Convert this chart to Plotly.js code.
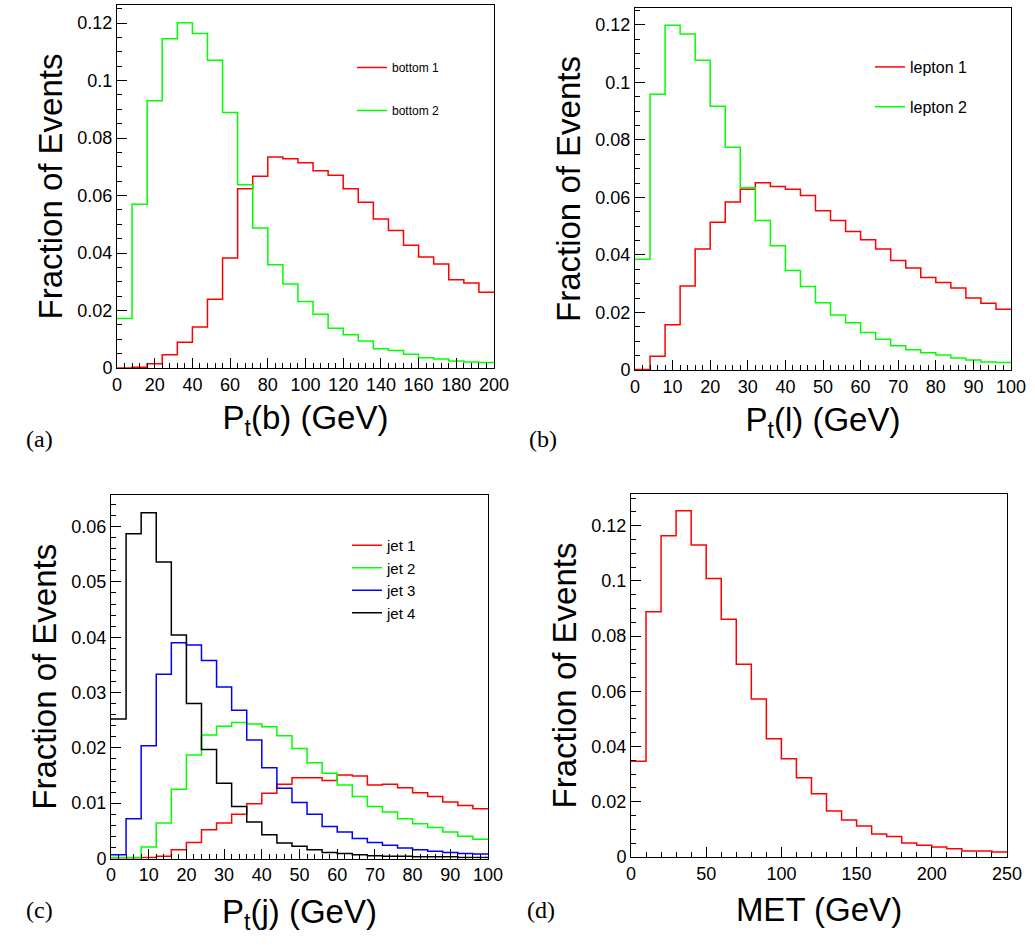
<!DOCTYPE html>
<html>
<head>
<meta charset="utf-8">
<script src="https://cdn.plot.ly/plotly-3.0.1.min.js"></script>
<style>html,body{margin:0;padding:0;background:#fff;}#chart{width:1035px;height:945px;}</style>
</head>
<body>
<div id="chart"></div>
<script>
// ---- Bin edges ----
const edgesB = [0,8,16,24,32,40,48,56,64,72,80,88,96,104,112,120,128,136,144,152,160,168,176,184,192,200];
const edgesL = [0,4,8,12,16,20,24,28,32,36,40,44,48,52,56,60,64,68,72,76,80,84,88,92,96,100];
const edgesJ = [0,4,8,12,16,20,24,28,32,36,40,44,48,52,56,60,64,68,72,76,80,84,88,92,96,100];
const edgesM = [0,10,20,30,40,50,60,70,80,90,100,110,120,130,140,150,160,170,180,190,200,210,220,230,240,250];

// ---- (a) bottom quarks ----
const bottom1 = [0.0000,0.0003,0.0015,0.0046,0.0090,0.0143,0.0239,0.0383,0.0624,0.0667,0.0734,0.0728,0.0714,0.0686,0.0671,0.0624,0.0577,0.0518,0.0478,0.0427,0.0386,0.0362,0.0307,0.0296,0.0264];
const bottom2 = [0.0172,0.0570,0.0930,0.1146,0.1201,0.1164,0.1071,0.0889,0.0638,0.0487,0.0359,0.0292,0.0231,0.0187,0.0138,0.0116,0.0094,0.0067,0.0061,0.0048,0.0036,0.0031,0.0024,0.0021,0.0019];

// ---- (b) leptons ----
const lepton1 = [0.0002,0.0048,0.0157,0.0292,0.0421,0.0514,0.0584,0.0629,0.0651,0.0638,0.0629,0.0607,0.0554,0.0520,0.0482,0.0453,0.0421,0.0381,0.0355,0.0322,0.0304,0.0285,0.0250,0.0232,0.0211];
const lepton2 = [0.0385,0.0959,0.1199,0.1169,0.1077,0.0917,0.0775,0.0634,0.0520,0.0432,0.0346,0.0290,0.0234,0.0191,0.0164,0.0130,0.0107,0.0084,0.0070,0.0060,0.0052,0.0042,0.0035,0.0028,0.0026];

// ---- (c) jets ----
const jet1 = [0.0001,0.0001,0.0002,0.0004,0.0016,0.0029,0.0052,0.0064,0.0080,0.0099,0.0118,0.0134,0.0146,0.0146,0.0141,0.0151,0.0149,0.0133,0.0134,0.0128,0.0119,0.0112,0.0102,0.0096,0.0090];
const jet2 = [0.0002,0.0002,0.0021,0.0064,0.0125,0.0187,0.0223,0.0239,0.0246,0.0243,0.0238,0.0222,0.0199,0.0173,0.0154,0.0133,0.0112,0.0094,0.0084,0.0072,0.0063,0.0056,0.0048,0.0040,0.0035];
const jet3 = [0.0007,0.0072,0.0204,0.0333,0.0390,0.0386,0.0358,0.0310,0.0268,0.0214,0.0164,0.0127,0.0101,0.0080,0.0058,0.0048,0.0036,0.0029,0.0024,0.0019,0.0016,0.0013,0.0011,0.0009,0.0008];
const jet4 = [0.0252,0.0587,0.0625,0.0536,0.0404,0.0280,0.0197,0.0136,0.0094,0.0066,0.0043,0.0028,0.0022,0.0016,0.0011,0.0009,0.0007,0.0005,0.0004,0.0004,0.0003,0.0003,0.0003,0.0002,0.0002];

// ---- (d) MET ----
const met = [0.0347,0.0888,0.1164,0.1254,0.1130,0.1009,0.0861,0.0698,0.0572,0.0428,0.0356,0.0287,0.0229,0.0167,0.0134,0.0112,0.0083,0.0074,0.0051,0.0043,0.0036,0.0030,0.0022,0.0022,0.0018];

const names = {b1:'bottom 1', b2:'bottom 2', l1:'lepton 1', l2:'lepton 2', j1:'jet 1', j2:'jet 2', j3:'jet 3', j4:'jet 4', met:'MET'};
const RED='#ff0000', GREEN='#00ff00', BLUE='#0000ff', BLACK='#000000';

function stepTrace(edges, vals, name, color, xa, ya, legend, showlegend) {
  return {
    type:'scatter', mode:'lines', name:name,
    x: edges, y: vals.concat([vals[vals.length-1]]),
    line:{shape:'hv', color:color, width:1.5},
    xaxis:xa, yaxis:ya, legend:legend, legendgroup:name,
    showlegend: showlegend, hoverinfo:'x+y+name'
  };
}

const data = [
  stepTrace(edgesB, bottom1, names.b1, RED, 'x', 'y', 'legend', true),
  stepTrace(edgesB, bottom2, names.b2, GREEN, 'x', 'y', 'legend', true),
  stepTrace(edgesL, lepton1, names.l1, RED, 'x2', 'y2', 'legend2', true),
  stepTrace(edgesL, lepton2, names.l2, GREEN, 'x2', 'y2', 'legend2', true),
  stepTrace(edgesJ, jet1, names.j1, RED, 'x3', 'y3', 'legend3', true),
  stepTrace(edgesJ, jet2, names.j2, GREEN, 'x3', 'y3', 'legend3', true),
  stepTrace(edgesJ, jet3, names.j3, BLUE, 'x3', 'y3', 'legend3', true),
  stepTrace(edgesJ, jet4, names.j4, BLACK, 'x3', 'y3', 'legend3', true),
  stepTrace(edgesM, met, names.met, RED, 'x4', 'y4', 'legend', false)
];

const FONT = 'Liberation Sans, Arial, Helvetica, sans-serif';
const tickFont = {family:FONT, size:18, color:'#000'};
const titleFont = {family:FONT, size:33, color:'#000'};

function xAxis(domain, range, dtick, minorDtick, title, anchor, standoff) {
  return {
    domain:domain, range:range, anchor:anchor, dtick:dtick, tick0:0,
    ticks:'inside', ticklen:10, tickwidth:1, tickcolor:'#000',
    minor:{dtick:minorDtick, tick0:0, ticks:'inside', ticklen:5, tickwidth:1, tickcolor:'#000', showgrid:false},
    showline:true, linecolor:'#000', linewidth:1, mirror:true,
    showgrid:false, zeroline:false, tickfont:tickFont,
    title:{text:title, font:titleFont, standoff:standoff}, fixedrange:true
  };
}
function yAxis(domain, range, dtick, minorDtick, anchor) {
  return {
    domain:domain, range:range, anchor:anchor, dtick:dtick, tick0:0,
    ticks:'inside', ticklen:10, tickwidth:1, tickcolor:'#000',
    minor:{dtick:minorDtick, tick0:0, ticks:'inside', ticklen:5, tickwidth:1, tickcolor:'#000', showgrid:false},
    showline:true, linecolor:'#000', linewidth:1, mirror:true,
    showgrid:false, zeroline:false, tickfont:tickFont,
    title:{text:'Fraction of Events', font:titleFont, standoff:4}, fixedrange:true
  };
}

const legendBase = {bgcolor:'rgba(0,0,0,0)', borderwidth:0, xanchor:'left', yanchor:'top', traceorder:'grouped', itemclick:false, itemdoubleclick:false};
const serif = {family:'Liberation Serif, Times New Roman, serif', size:24, color:'#000'};

const layout = {
  width:1035, height:945,
  margin:{l:0, r:0, t:0, b:0},
  paper_bgcolor:'#fff', plot_bgcolor:'#fff',
  showlegend:true,
  xaxis:  xAxis([0.11304,0.47729], [0,200], 20, 4, 'P<sub>t</sub>(b) (GeV)', 'y', 12),
  yaxis:  yAxis([0.61058,0.99471], [0,0.1263], 0.02, 0.005, 'x'),
  xaxis2: xAxis([0.61353,0.97681], [0,100], 10, 2, 'P<sub>t</sub>(l) (GeV)', 'y2', 12),
  yaxis2: yAxis([0.60847,0.99153], [0,0.1259], 0.02, 0.005, 'x2'),
  xaxis3: xAxis([0.10725,0.47150], [0,100], 10, 2, 'P<sub>t</sub>(j) (GeV)', 'y3', 15),
  yaxis3: yAxis([0.09153,0.47619], [0,0.0657], 0.01, 0.002, 'x3'),
  xaxis4: xAxis([0.60966,0.97295], [0,250], 50, 10, 'MET (GeV)', 'y4', 15),
  yaxis4: yAxis([0.09312,0.47725], [0,0.1315], 0.02, 0.005, 'x4'),
  legend:  Object.assign({}, legendBase, {x:352/1035, y:1-53/945, font:{family:FONT,size:12,color:'#000'}, tracegroupgap:24}),
  legend2: Object.assign({}, legendBase, {x:870/1035, y:1-50/945, font:{family:FONT,size:16,color:'#000'}, tracegroupgap:16}),
  legend3: Object.assign({}, legendBase, {x:347/1035, y:1-529/945, font:{family:FONT,size:15,color:'#000'}, tracegroupgap:0}),
  annotations:[
    {text:'(a)', xref:'paper', yref:'paper', x:24/1035, y:1-439/945, showarrow:false, font:serif},
    {text:'(b)', xref:'paper', yref:'paper', x:543/1035, y:1-439/945, showarrow:false, font:serif},
    {text:'(c)', xref:'paper', yref:'paper', x:24/1035, y:1-925/945, showarrow:false, font:serif},
    {text:'(d)', xref:'paper', yref:'paper', x:541/1035, y:1-925/945, showarrow:false, font:serif}
  ]
};

Plotly.newPlot('chart', data, layout, {displayModeBar:false});
</script>
</body>
</html>
